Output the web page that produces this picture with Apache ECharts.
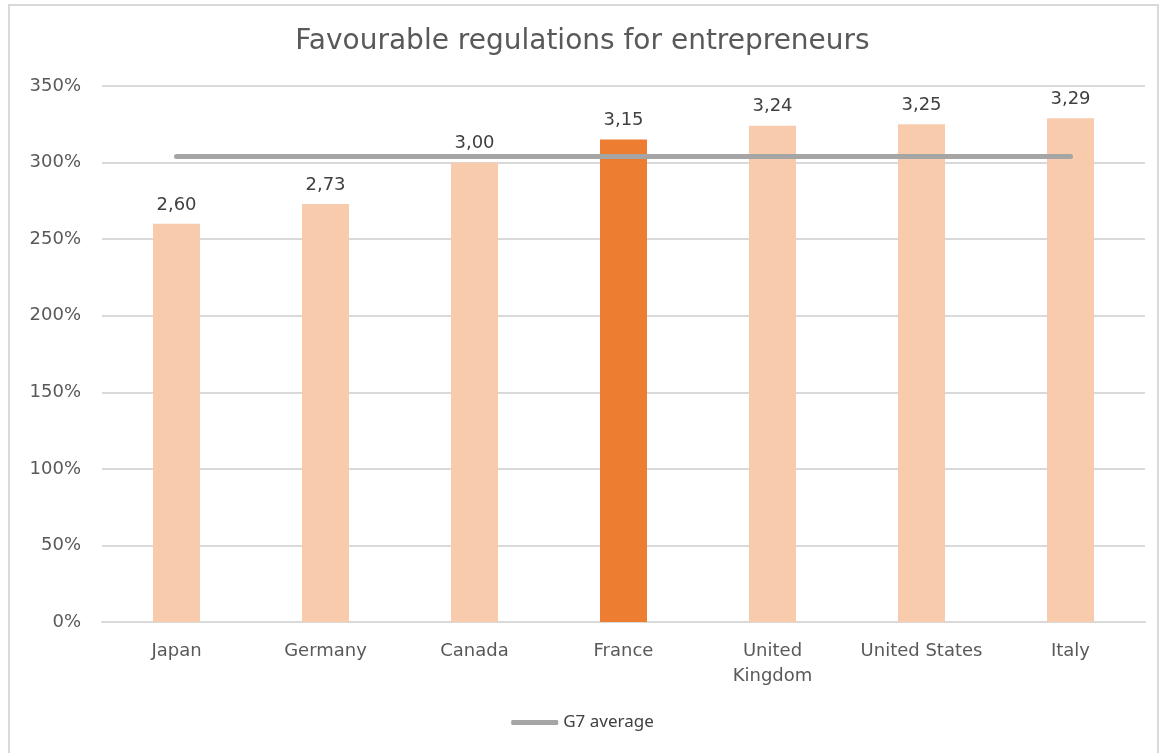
<!DOCTYPE html>
<html>
<head>
<meta charset="UTF-8">
<script src="https://cdn.jsdelivr.net/npm/echarts@6/dist/echarts.min.js"></script>
<style>
  body { margin: 0; background: #fff; }
  #frame { position: absolute; left: 8px; top: 4px; width: 1151px; height: 752px; border: 2px solid #d9d9d9; box-sizing: border-box; }
  #chart { position: absolute; left: 0; top: 0; width: 1165px; height: 753px; }
</style>
</head>
<body>
<div id="frame"></div>
<div id="chart"></div>
<script>
  // data
  const countries = ['Japan', 'Germany', 'Canada', 'France', 'United\nKingdom', 'United States', 'Italy'];
  const scores = [2.60, 2.73, 3.00, 3.15, 3.24, 3.25, 3.29];
  const g7Average = [3.04, 3.04, 3.04, 3.04, 3.04, 3.04, 3.04];
  const highlight = 'France';

  const chart = echarts.init(document.getElementById('chart'));
  const font = "'DejaVu Sans', sans-serif";

  chart.setOption({
    animation: false,
    title: {
      text: 'Favourable regulations for entrepreneurs',
      left: 'center',
      top: 23,
      textStyle: { fontFamily: font, fontSize: 28, fontWeight: 'normal', color: '#595959' }
    },
    legend: {
      bottom: 17,
      left: 'center',
      data: [{ name: 'G7 average', icon: 'roundRect' }],
      itemWidth: 47,
      itemHeight: 5,
      itemGap: 4,
      textStyle: { fontFamily: "'Liberation Sans Narrow', 'Noto Sans', sans-serif", fontSize: 17, color: '#404040' }
    },
    grid: { left: 102, right: 20, top: 86, bottom: 131, containLabel: false },
    xAxis: {
      type: 'category',
      data: countries,
      axisLine: { lineStyle: { color: '#d9d9d9', width: 2 } },
      axisTick: { show: false },
      axisLabel: { fontFamily: font, fontSize: 18, color: '#595959', margin: 17, lineHeight: 25, interval: 0 }
    },
    yAxis: {
      type: 'value',
      min: 0,
      max: 3.5,
      interval: 0.5,
      axisLine: { show: false },
      axisTick: { show: false },
      splitLine: { lineStyle: { color: '#d9d9d9', width: 2 } },
      axisLabel: {
        fontFamily: font, fontSize: 18, color: '#595959', margin: 21,
        formatter: v => Math.round(v * 100) + '%'
      }
    },
    series: [
      {
        name: 'Scores',
        type: 'bar',
        barWidth: 47,
        data: scores.map((v, i) => ({
          value: v,
          itemStyle: { color: countries[i] === highlight ? '#ED7D31' : '#F8CBAD' }
        })),
        label: {
          show: true,
          position: 'top',
          distance: 10,
          fontFamily: font,
          fontSize: 18,
          color: '#404040',
          formatter: p => p.value.toFixed(2).replace('.', ',')
        }
      },
      {
        name: 'G7 average',
        type: 'line',
        data: g7Average,
        symbol: 'none',
        lineStyle: { color: '#A5A5A5', width: 5, cap: 'round' },
        itemStyle: { color: '#A5A5A5' },
        z: 5
      }
    ]
  });
</script>
</body>
</html>
